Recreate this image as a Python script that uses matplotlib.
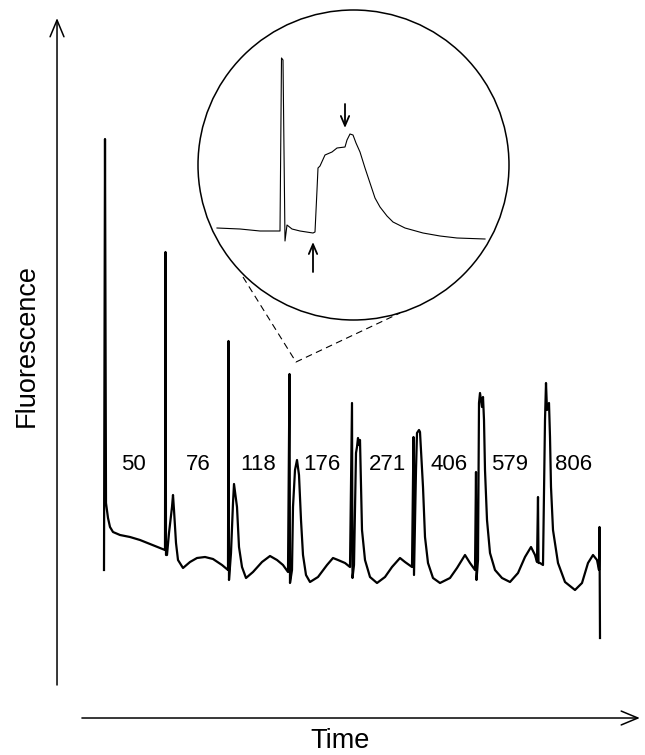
import matplotlib
matplotlib.use("Agg")
import matplotlib.pyplot as plt
from matplotlib.patches import Ellipse

plt.rcParams['font.family'] = ['Liberation Sans', 'DejaVu Sans']

# main recording: time (samples) and fluorescence (a.u.)
time = [0, 1, 2, 4, 6, 9, 16, 26, 36, 46, 56, 61,
        61.5, 62, 63, 65, 68, 69, 70, 72, 74, 79, 86, 93, 101, 109, 118, 124,
        124.5, 125, 127, 129, 130, 133, 135, 138, 142, 149, 158, 166, 173, 179, 184,
        185.5, 186, 188, 189, 191, 193, 195, 197, 199, 202, 206, 214, 223, 229, 234, 241, 246,
        248, 248.5, 250, 252, 253, 254, 255, 256, 257, 258, 261, 266, 273, 281, 288, 296, 301, 308,
        309.5, 310, 312, 313, 315, 316, 319, 321, 324, 329, 336, 346, 353, 361, 366, 371,
        372, 372.5, 374, 375, 376, 378, 379, 380, 381, 383, 386, 391, 398, 406, 414, 421, 427, 431, 433,
        434, 434.5, 436, 439, 441, 442, 443, 445, 446, 447, 449, 454, 461, 471, 478, 484, 489, 493, 495,
        495.5, 496]
fluor = [20, 451, 87, 72, 63, 58, 55, 53, 50, 46, 42, 40,
         338, 35, 35, 57, 83, 95, 80, 47, 30, 22, 28, 32, 33, 31, 25, 20,
         249, 10, 37, 87, 106, 83, 43, 23, 12, 18, 28, 34, 30, 25, 18,
         216, 7, 20, 83, 120, 130, 115, 70, 35, 15, 8, 13, 25, 32, 30, 27, 23,
         187, 12, 25, 137, 143, 152, 145, 150, 103, 60, 30, 13, 7, 13, 23, 32, 28, 23,
         153, 15, 120, 157, 160, 158, 103, 53, 27, 12, 7, 12, 22, 35, 27, 20,
         118, 10, 30, 187, 197, 183, 193, 170, 120, 70, 37, 20, 12, 8, 17, 33, 43, 35, 28,
         93, 27, 27, 25, 170, 207, 180, 187, 153, 103, 60, 27, 8, 0, 7, 27, 35, 30, 20,
         63, -48]

# enlarged view of a single response
zoom_time = [0, 23, 43, 63, 64.5, 66, 68, 70, 75, 83, 96, 98, 100, 101, 103, 108, 115,
             120, 128, 130, 133, 136, 139, 143, 148, 153, 158, 163, 170, 176, 188, 206,
             223, 240, 268]
zoom_fluor = [12, 11, 9, 9, 182, 180, -1, 15, 11, 9, 7, 8, 50, 72, 74, 85, 88,
              92, 93, 100, 106, 105, 97, 88, 72, 57, 42, 33, 24, 18, 12, 7,
              4, 2, 1]

concentrations = ['50', '76', '118', '176', '271', '406', '579', '806']
label_time = [29, 94, 154, 218, 284, 345, 406, 470]

fig = plt.figure(figsize=(6.45, 7.55), dpi=100)
ax = fig.add_axes([0, 0, 1, 1])
ax.plot(time, fluor, color='black', lw=1.6)
ax.set_xlim(-104, 541)
ax.set_ylim(-165, 590)
ax.axis('off')

for lab, t in zip(concentrations, label_time):
    ax.text(t, 125, lab, ha='center', va='center', fontsize=16)

# dashed lines joining the trace to the magnified circle
ax.plot([139, 192, 296], [313, 228, 277], color='black', lw=0.8,
        dashes=(6, 4))

# axis arrows
arrow = dict(arrowstyle='->,head_length=1.2,head_width=0.5', color='black',
             lw=1.1, shrinkA=0, shrinkB=0)
ax.annotate('', xy=(0.0884, 0.976), xytext=(0.0884, 0.0927),
            xycoords='figure fraction', textcoords='figure fraction',
            arrowprops=arrow)
ax.annotate('', xy=(0.992, 0.049), xytext=(0.127, 0.049),
            xycoords='figure fraction', textcoords='figure fraction',
            arrowprops=arrow)
fig.text(0.042, 0.543, 'Fluorescence', rotation=90, ha='center', va='center',
         fontsize=19.5)
fig.text(0.527, 0.019, 'Time', ha='center', va='center', fontsize=19.5)

# magnified inset
ins = fig.add_axes([198 / 645, 435 / 755, 311 / 645, 310 / 755])
ins.set_xlim(-19, 292)
ins.set_ylim(-80, 230)
ins.axis('off')
ins.add_patch(Ellipse((0.5, 0.5), 1, 1, transform=ins.transAxes,
                      facecolor='none', edgecolor='black', lw=1.1,
                      clip_on=False))
ins.plot(zoom_time, zoom_fluor, color='black', lw=0.8)
small = dict(arrowstyle='->,head_length=0.7,head_width=0.3', color='black',
             lw=1.3, shrinkA=0, shrinkB=0)
ins.annotate('', xy=(128, 112), xytext=(128, 136), arrowprops=small)
ins.annotate('', xy=(96, -2), xytext=(96, -32), arrowprops=small)

fig.savefig('out.png', dpi=100)
